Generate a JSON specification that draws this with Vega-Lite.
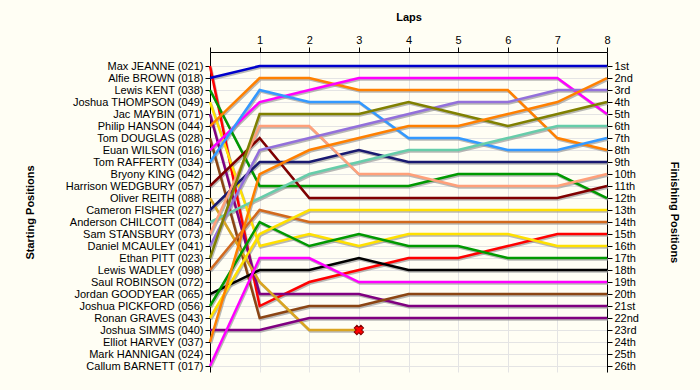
{
  "$schema": "https://vega.github.io/schema/vega-lite/v6.json",
  "width": 397,
  "height": 320,
  "autosize": {"type": "none"},
  "padding": {"left": 210, "top": 52, "right": 93, "bottom": 18},
  "background": "#FFFEF4",
  "config": {
    "view": {"stroke": null},
    "font": "Liberation Sans",
    "axis": {"labelFont": "Liberation Sans", "titleFont": "Liberation Sans", "labelColor": "#000000", "titleColor": "#000000", "tickColor": "#000000", "domainColor": "#000000", "labelFontSize": 11, "titleFontSize": 11, "titleFontWeight": "bold", "labelOverlap": false}
  },
  "data": {
    "values": [
      {"driver": "Max JEANNE", "lap": 0, "pos": 1}, {"driver": "Max JEANNE", "lap": 1, "pos": 21}, {"driver": "Max JEANNE", "lap": 2, "pos": 19}, {"driver": "Max JEANNE", "lap": 3, "pos": 18}, {"driver": "Max JEANNE", "lap": 4, "pos": 17}, {"driver": "Max JEANNE", "lap": 5, "pos": 17}, {"driver": "Max JEANNE", "lap": 6, "pos": 16}, {"driver": "Max JEANNE", "lap": 7, "pos": 15}, {"driver": "Max JEANNE", "lap": 8, "pos": 15},
      {"driver": "Alfie BROWN", "lap": 0, "pos": 2}, {"driver": "Alfie BROWN", "lap": 1, "pos": 1}, {"driver": "Alfie BROWN", "lap": 2, "pos": 1}, {"driver": "Alfie BROWN", "lap": 3, "pos": 1}, {"driver": "Alfie BROWN", "lap": 4, "pos": 1}, {"driver": "Alfie BROWN", "lap": 5, "pos": 1}, {"driver": "Alfie BROWN", "lap": 6, "pos": 1}, {"driver": "Alfie BROWN", "lap": 7, "pos": 1}, {"driver": "Alfie BROWN", "lap": 8, "pos": 1},
      {"driver": "Lewis KENT", "lap": 0, "pos": 3}, {"driver": "Lewis KENT", "lap": 1, "pos": 11}, {"driver": "Lewis KENT", "lap": 2, "pos": 11}, {"driver": "Lewis KENT", "lap": 3, "pos": 11}, {"driver": "Lewis KENT", "lap": 4, "pos": 11}, {"driver": "Lewis KENT", "lap": 5, "pos": 10}, {"driver": "Lewis KENT", "lap": 6, "pos": 10}, {"driver": "Lewis KENT", "lap": 7, "pos": 10}, {"driver": "Lewis KENT", "lap": 8, "pos": 12},
      {"driver": "Joshua THOMPSON", "lap": 0, "pos": 4}, {"driver": "Joshua THOMPSON", "lap": 1, "pos": 16}, {"driver": "Joshua THOMPSON", "lap": 2, "pos": 15}, {"driver": "Joshua THOMPSON", "lap": 3, "pos": 16}, {"driver": "Joshua THOMPSON", "lap": 4, "pos": 15}, {"driver": "Joshua THOMPSON", "lap": 5, "pos": 15}, {"driver": "Joshua THOMPSON", "lap": 6, "pos": 15}, {"driver": "Joshua THOMPSON", "lap": 7, "pos": 16}, {"driver": "Joshua THOMPSON", "lap": 8, "pos": 16},
      {"driver": "Jac MAYBIN", "lap": 0, "pos": 5}, {"driver": "Jac MAYBIN", "lap": 1, "pos": 20}, {"driver": "Jac MAYBIN", "lap": 2, "pos": 20}, {"driver": "Jac MAYBIN", "lap": 3, "pos": 20}, {"driver": "Jac MAYBIN", "lap": 4, "pos": 21}, {"driver": "Jac MAYBIN", "lap": 5, "pos": 21}, {"driver": "Jac MAYBIN", "lap": 6, "pos": 21}, {"driver": "Jac MAYBIN", "lap": 7, "pos": 21}, {"driver": "Jac MAYBIN", "lap": 8, "pos": 21},
      {"driver": "Philip HANSON", "lap": 0, "pos": 6}, {"driver": "Philip HANSON", "lap": 1, "pos": 2}, {"driver": "Philip HANSON", "lap": 2, "pos": 2}, {"driver": "Philip HANSON", "lap": 3, "pos": 3}, {"driver": "Philip HANSON", "lap": 4, "pos": 3}, {"driver": "Philip HANSON", "lap": 5, "pos": 3}, {"driver": "Philip HANSON", "lap": 6, "pos": 3}, {"driver": "Philip HANSON", "lap": 7, "pos": 7}, {"driver": "Philip HANSON", "lap": 8, "pos": 8},
      {"driver": "Tom DOUGLAS", "lap": 0, "pos": 7}, {"driver": "Tom DOUGLAS", "lap": 1, "pos": 22}, {"driver": "Tom DOUGLAS", "lap": 2, "pos": 21}, {"driver": "Tom DOUGLAS", "lap": 3, "pos": 21}, {"driver": "Tom DOUGLAS", "lap": 4, "pos": 20}, {"driver": "Tom DOUGLAS", "lap": 5, "pos": 20}, {"driver": "Tom DOUGLAS", "lap": 6, "pos": 20}, {"driver": "Tom DOUGLAS", "lap": 7, "pos": 20}, {"driver": "Tom DOUGLAS", "lap": 8, "pos": 20},
      {"driver": "Euan WILSON", "lap": 0, "pos": 8}, {"driver": "Euan WILSON", "lap": 1, "pos": 4}, {"driver": "Euan WILSON", "lap": 2, "pos": 3}, {"driver": "Euan WILSON", "lap": 3, "pos": 2}, {"driver": "Euan WILSON", "lap": 4, "pos": 2}, {"driver": "Euan WILSON", "lap": 5, "pos": 2}, {"driver": "Euan WILSON", "lap": 6, "pos": 2}, {"driver": "Euan WILSON", "lap": 7, "pos": 2}, {"driver": "Euan WILSON", "lap": 8, "pos": 5},
      {"driver": "Tom RAFFERTY", "lap": 0, "pos": 9}, {"driver": "Tom RAFFERTY", "lap": 1, "pos": 3}, {"driver": "Tom RAFFERTY", "lap": 2, "pos": 4}, {"driver": "Tom RAFFERTY", "lap": 3, "pos": 4}, {"driver": "Tom RAFFERTY", "lap": 4, "pos": 7}, {"driver": "Tom RAFFERTY", "lap": 5, "pos": 7}, {"driver": "Tom RAFFERTY", "lap": 6, "pos": 8}, {"driver": "Tom RAFFERTY", "lap": 7, "pos": 8}, {"driver": "Tom RAFFERTY", "lap": 8, "pos": 7},
      {"driver": "Harrison WEDGBURY", "lap": 0, "pos": 11}, {"driver": "Harrison WEDGBURY", "lap": 1, "pos": 7}, {"driver": "Harrison WEDGBURY", "lap": 2, "pos": 12}, {"driver": "Harrison WEDGBURY", "lap": 3, "pos": 12}, {"driver": "Harrison WEDGBURY", "lap": 4, "pos": 12}, {"driver": "Harrison WEDGBURY", "lap": 5, "pos": 12}, {"driver": "Harrison WEDGBURY", "lap": 6, "pos": 12}, {"driver": "Harrison WEDGBURY", "lap": 7, "pos": 12}, {"driver": "Harrison WEDGBURY", "lap": 8, "pos": 11},
      {"driver": "Oliver REITH", "lap": 0, "pos": 12}, {"driver": "Oliver REITH", "lap": 1, "pos": 19}, {"driver": "Oliver REITH", "lap": 2, "pos": 23}, {"driver": "Oliver REITH", "lap": 3, "pos": 23},
      {"driver": "Cameron FISHER", "lap": 0, "pos": 13}, {"driver": "Cameron FISHER", "lap": 1, "pos": 9}, {"driver": "Cameron FISHER", "lap": 2, "pos": 9}, {"driver": "Cameron FISHER", "lap": 3, "pos": 8}, {"driver": "Cameron FISHER", "lap": 4, "pos": 9}, {"driver": "Cameron FISHER", "lap": 5, "pos": 9}, {"driver": "Cameron FISHER", "lap": 6, "pos": 9}, {"driver": "Cameron FISHER", "lap": 7, "pos": 9}, {"driver": "Cameron FISHER", "lap": 8, "pos": 9},
      {"driver": "Anderson CHILCOTT", "lap": 0, "pos": 14}, {"driver": "Anderson CHILCOTT", "lap": 1, "pos": 12}, {"driver": "Anderson CHILCOTT", "lap": 2, "pos": 10}, {"driver": "Anderson CHILCOTT", "lap": 3, "pos": 9}, {"driver": "Anderson CHILCOTT", "lap": 4, "pos": 8}, {"driver": "Anderson CHILCOTT", "lap": 5, "pos": 8}, {"driver": "Anderson CHILCOTT", "lap": 6, "pos": 7}, {"driver": "Anderson CHILCOTT", "lap": 7, "pos": 6}, {"driver": "Anderson CHILCOTT", "lap": 8, "pos": 6},
      {"driver": "Sam STANSBURY", "lap": 0, "pos": 15}, {"driver": "Sam STANSBURY", "lap": 1, "pos": 6}, {"driver": "Sam STANSBURY", "lap": 2, "pos": 6}, {"driver": "Sam STANSBURY", "lap": 3, "pos": 10}, {"driver": "Sam STANSBURY", "lap": 4, "pos": 10}, {"driver": "Sam STANSBURY", "lap": 5, "pos": 11}, {"driver": "Sam STANSBURY", "lap": 6, "pos": 11}, {"driver": "Sam STANSBURY", "lap": 7, "pos": 11}, {"driver": "Sam STANSBURY", "lap": 8, "pos": 10},
      {"driver": "Daniel MCAULEY", "lap": 0, "pos": 16}, {"driver": "Daniel MCAULEY", "lap": 1, "pos": 8}, {"driver": "Daniel MCAULEY", "lap": 2, "pos": 7}, {"driver": "Daniel MCAULEY", "lap": 3, "pos": 6}, {"driver": "Daniel MCAULEY", "lap": 4, "pos": 5}, {"driver": "Daniel MCAULEY", "lap": 5, "pos": 4}, {"driver": "Daniel MCAULEY", "lap": 6, "pos": 4}, {"driver": "Daniel MCAULEY", "lap": 7, "pos": 3}, {"driver": "Daniel MCAULEY", "lap": 8, "pos": 3},
      {"driver": "Ethan PITT", "lap": 0, "pos": 17}, {"driver": "Ethan PITT", "lap": 1, "pos": 5}, {"driver": "Ethan PITT", "lap": 2, "pos": 5}, {"driver": "Ethan PITT", "lap": 3, "pos": 5}, {"driver": "Ethan PITT", "lap": 4, "pos": 4}, {"driver": "Ethan PITT", "lap": 5, "pos": 5}, {"driver": "Ethan PITT", "lap": 6, "pos": 6}, {"driver": "Ethan PITT", "lap": 7, "pos": 5}, {"driver": "Ethan PITT", "lap": 8, "pos": 4},
      {"driver": "Lewis WADLEY", "lap": 0, "pos": 18}, {"driver": "Lewis WADLEY", "lap": 1, "pos": 13}, {"driver": "Lewis WADLEY", "lap": 2, "pos": 14}, {"driver": "Lewis WADLEY", "lap": 3, "pos": 14}, {"driver": "Lewis WADLEY", "lap": 4, "pos": 14}, {"driver": "Lewis WADLEY", "lap": 5, "pos": 14}, {"driver": "Lewis WADLEY", "lap": 6, "pos": 14}, {"driver": "Lewis WADLEY", "lap": 7, "pos": 14}, {"driver": "Lewis WADLEY", "lap": 8, "pos": 14},
      {"driver": "Jordan GOODYEAR", "lap": 0, "pos": 20}, {"driver": "Jordan GOODYEAR", "lap": 1, "pos": 18}, {"driver": "Jordan GOODYEAR", "lap": 2, "pos": 18}, {"driver": "Jordan GOODYEAR", "lap": 3, "pos": 17}, {"driver": "Jordan GOODYEAR", "lap": 4, "pos": 18}, {"driver": "Jordan GOODYEAR", "lap": 5, "pos": 18}, {"driver": "Jordan GOODYEAR", "lap": 6, "pos": 18}, {"driver": "Jordan GOODYEAR", "lap": 7, "pos": 18}, {"driver": "Jordan GOODYEAR", "lap": 8, "pos": 18},
      {"driver": "Joshua PICKFORD", "lap": 0, "pos": 21}, {"driver": "Joshua PICKFORD", "lap": 1, "pos": 14}, {"driver": "Joshua PICKFORD", "lap": 2, "pos": 16}, {"driver": "Joshua PICKFORD", "lap": 3, "pos": 15}, {"driver": "Joshua PICKFORD", "lap": 4, "pos": 16}, {"driver": "Joshua PICKFORD", "lap": 5, "pos": 16}, {"driver": "Joshua PICKFORD", "lap": 6, "pos": 17}, {"driver": "Joshua PICKFORD", "lap": 7, "pos": 17}, {"driver": "Joshua PICKFORD", "lap": 8, "pos": 17},
      {"driver": "Ronan GRAVES", "lap": 0, "pos": 22}, {"driver": "Ronan GRAVES", "lap": 1, "pos": 15}, {"driver": "Ronan GRAVES", "lap": 2, "pos": 13}, {"driver": "Ronan GRAVES", "lap": 3, "pos": 13}, {"driver": "Ronan GRAVES", "lap": 4, "pos": 13}, {"driver": "Ronan GRAVES", "lap": 5, "pos": 13}, {"driver": "Ronan GRAVES", "lap": 6, "pos": 13}, {"driver": "Ronan GRAVES", "lap": 7, "pos": 13}, {"driver": "Ronan GRAVES", "lap": 8, "pos": 13},
      {"driver": "Joshua SIMMS", "lap": 0, "pos": 23}, {"driver": "Joshua SIMMS", "lap": 1, "pos": 23}, {"driver": "Joshua SIMMS", "lap": 2, "pos": 22}, {"driver": "Joshua SIMMS", "lap": 3, "pos": 22}, {"driver": "Joshua SIMMS", "lap": 4, "pos": 22}, {"driver": "Joshua SIMMS", "lap": 5, "pos": 22}, {"driver": "Joshua SIMMS", "lap": 6, "pos": 22}, {"driver": "Joshua SIMMS", "lap": 7, "pos": 22}, {"driver": "Joshua SIMMS", "lap": 8, "pos": 22},
      {"driver": "Elliot HARVEY", "lap": 0, "pos": 24}, {"driver": "Elliot HARVEY", "lap": 1, "pos": 10}, {"driver": "Elliot HARVEY", "lap": 2, "pos": 8}, {"driver": "Elliot HARVEY", "lap": 3, "pos": 7}, {"driver": "Elliot HARVEY", "lap": 4, "pos": 6}, {"driver": "Elliot HARVEY", "lap": 5, "pos": 6}, {"driver": "Elliot HARVEY", "lap": 6, "pos": 5}, {"driver": "Elliot HARVEY", "lap": 7, "pos": 4}, {"driver": "Elliot HARVEY", "lap": 8, "pos": 2},
      {"driver": "Callum BARNETT", "lap": 0, "pos": 26}, {"driver": "Callum BARNETT", "lap": 1, "pos": 17}, {"driver": "Callum BARNETT", "lap": 2, "pos": 17}, {"driver": "Callum BARNETT", "lap": 3, "pos": 19}, {"driver": "Callum BARNETT", "lap": 4, "pos": 19}, {"driver": "Callum BARNETT", "lap": 5, "pos": 19}, {"driver": "Callum BARNETT", "lap": 6, "pos": 19}, {"driver": "Callum BARNETT", "lap": 7, "pos": 19}, {"driver": "Callum BARNETT", "lap": 8, "pos": 19}
    ]
  },
  "encoding": {
    "x": {
      "field": "lap", "type": "quantitative",
      "scale": {"domain": [0, 8], "nice": false, "zero": false},
      "axis": {"orient": "top", "title": "Laps", "values": [0, 1, 2, 3, 4, 5, 6, 7, 8], "labelExpr": "datum.value == 0 ? '' : datum.label", "grid": true, "gridColor": "#e4e4e4", "tickSize": 5, "labelPadding": 2, "titlePadding": 12, "labelFlush": false}
    }
  },
  "layer": [
    {
      "mark": {"type": "line", "strokeWidth": 2.5, "stroke": "#9a9a9a", "opacity": 0.7, "xOffset": 1, "yOffset": 1.5},
      "encoding": {
        "y": {"field": "pos", "type": "quantitative", "scale": {"domain": [-0.17, 26.5], "reverse": true, "nice": false, "zero": false},
          "axis": {"orient": "left", "title": "Starting Positions", "values": [1, 2, 3, 4, 5, 6, 7, 8, 9, 10, 11, 12, 13, 14, 15, 16, 17, 18, 19, 20, 21, 22, 23, 24, 25, 26],
            "labelExpr": "['Max JEANNE (021)','Alfie BROWN (018)','Lewis KENT (038)','Joshua THOMPSON (049)','Jac MAYBIN (071)','Philip HANSON (044)','Tom DOUGLAS (028)','Euan WILSON (016)','Tom RAFFERTY (034)','Bryony KING (042)','Harrison WEDGBURY (057)','Oliver REITH (088)','Cameron FISHER (027)','Anderson CHILCOTT (084)','Sam STANSBURY (073)','Daniel MCAULEY (041)','Ethan PITT (023)','Lewis WADLEY (098)','Saul ROBINSON (072)','Jordan GOODYEAR (065)','Joshua PICKFORD (056)','Ronan GRAVES (043)','Joshua SIMMS (040)','Elliot HARVEY (037)','Mark HANNIGAN (024)','Callum BARNETT (017)'][datum.value - 1]",
            "grid": true, "gridColor": "#e4e4e4", "tickSize": 5, "labelPadding": 2, "titlePadding": 30}},
        "detail": {"field": "driver"},
        "order": {"field": "lap"}
      }
    },
    {
      "mark": {"type": "line", "strokeWidth": 2.5},
      "encoding": {
        "y": {"field": "pos", "type": "quantitative", "scale": {"domain": [-0.17, 26.5], "reverse": true, "nice": false, "zero": false}, "axis": null},
        "color": {"field": "driver", "type": "nominal", "legend": null,
          "scale": {
            "domain": ["Max JEANNE", "Alfie BROWN", "Lewis KENT", "Joshua THOMPSON", "Jac MAYBIN", "Philip HANSON", "Tom DOUGLAS", "Euan WILSON", "Tom RAFFERTY", "Harrison WEDGBURY", "Oliver REITH", "Cameron FISHER", "Anderson CHILCOTT", "Sam STANSBURY", "Daniel MCAULEY", "Ethan PITT", "Lewis WADLEY", "Jordan GOODYEAR", "Joshua PICKFORD", "Ronan GRAVES", "Joshua SIMMS", "Elliot HARVEY", "Callum BARNETT"],
            "range": ["#FF0000", "#0000CC", "#009900", "#FFE000", "#800080", "#FF8000", "#8B4513", "#FF00FF", "#3399FF", "#800000", "#DAA520", "#191970", "#66CDAA", "#FFA07A", "#9370DB", "#808000", "#D2691E", "#000000", "#009900", "#FFE000", "#800080", "#FF8000", "#FF00FF"]
          }},
        "detail": {"field": "driver"},
        "order": {"field": "lap"}
      }
    },
    {
      "transform": [{"filter": "datum.driver == 'Oliver REITH' && datum.lap == 3"}],
      "mark": {"type": "point", "shape": "cross", "angle": 45, "filled": true, "fill": "#FF0000", "stroke": "#800000", "strokeWidth": 1, "size": 90, "opacity": 1},
      "encoding": {
        "y": {"field": "pos", "type": "quantitative", "scale": {"domain": [-0.17, 26.5], "reverse": true, "nice": false, "zero": false},
          "axis": {"orient": "right", "title": "Finishing Positions", "values": [1, 2, 3, 4, 5, 6, 7, 8, 9, 10, 11, 12, 13, 14, 15, 16, 17, 18, 19, 20, 21, 22, 23, 24, 25, 26],
            "labelExpr": "['1st','2nd','3rd','4th','5th','6th','7th','8th','9th','10th','11th','12th','13th','14th','15th','16th','17th','18th','19th','20th','21st','22nd','23rd','24th','25th','26th'][datum.value - 1]",
            "grid": false, "tickSize": 5, "labelPadding": 2, "titlePadding": 30, "labelFontSize": 11}}
      }
    }
  ],
  "resolve": {"scale": {"y": "independent"}, "axis": {"y": "independent"}}
}
